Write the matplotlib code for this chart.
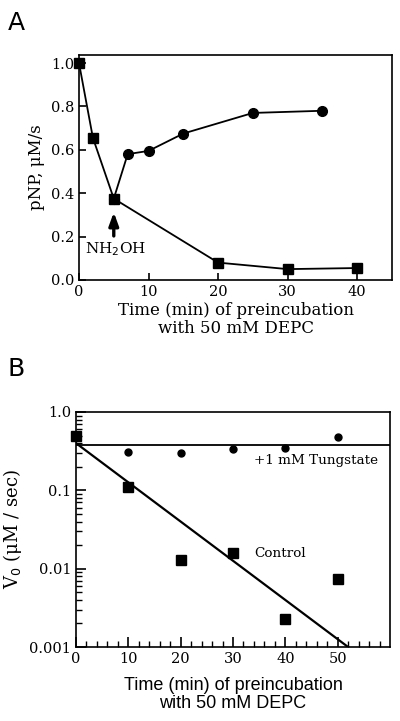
import matplotlib
matplotlib.use("Agg")
from matplotlib import pyplot as plt
from matplotlib.ticker import FixedLocator, NullFormatter, LogLocator
import numpy as np

# panel A data
a_sq_x = [0, 2, 5, 20, 30, 40]
a_sq_y = [1.0, 0.655, 0.375, 0.08, 0.05, 0.055]
a_ci_x = [5, 7, 10, 15, 25, 35]
a_ci_y = [0.375, 0.58, 0.595, 0.675, 0.77, 0.78]

# panel B data
b_t_x = [10, 20, 30, 40, 50]
b_t_y = [0.31, 0.30, 0.333, 0.347, 0.48]
b_c_x = [0, 10, 20, 30, 40, 50]
b_c_y = [0.49, 0.111, 0.0129, 0.016, 0.00225, 0.0074]
tung_line_x = [0, 60]
tung_line_y = [0.375, 0.375]
ctrl_fit_x = [0, 52]
ctrl_fit_y = [0.40, 0.001]

serif = "DejaVu Serif"
fig = plt.figure(figsize=(4, 7.21), dpi=100)

# ---- panel A
ax = fig.add_axes([0.1975, 0.6117, 0.7825, 0.312])
ax.plot(a_ci_x, a_ci_y, 'o-k', ms=7, lw=1.3, clip_on=False)
ax.plot(a_sq_x, a_sq_y, 's-k', ms=7.5, lw=1.3, zorder=3, clip_on=False)
ax.set_xlim(0, 45)
ax.set_ylim(0, 1.037)
ax.set_xticks([0, 10, 20, 30, 40])
ax.set_yticks([0, 0.2, 0.4, 0.6, 0.8, 1.0])
ax.set_yticklabels(["0.0", "0.2", "0.4", "0.6", "0.8", "1.0"])
ax.tick_params(direction='in', length=5, width=1.2, labelsize=10.5)
for lab in ax.get_xticklabels() + ax.get_yticklabels():
    lab.set_family(serif)
for s in ax.spines.values():
    s.set_linewidth(1.2)
ax.set_xlabel("Time (min) of preincubation\nwith 50 mM DEPC", family=serif,
              fontsize=12, linespacing=1.1, labelpad=2)
ax.set_ylabel("pNP, μM/s", family=serif, fontsize=12)
ax.annotate("", xy=(5, 0.325), xytext=(5, 0.19),
            arrowprops=dict(arrowstyle='-|>,head_width=0.2,head_length=0.55',
                            color='k', lw=2.4, mutation_scale=14))
ax.text(5.3, 0.14, "NH$_2$OH", family=serif, fontsize=11, ha='center', va='center')
fig.text(0.02, 0.985, "A", fontsize=18, va='top', ha='left')

# ---- panel B
bx = fig.add_axes([0.19, 0.1026, 0.785, 0.326])
bx.set_yscale('log')
bx.plot(tung_line_x, tung_line_y, '-k', lw=1.3)
bx.plot(ctrl_fit_x, ctrl_fit_y, '-k', lw=1.6)
bx.plot(b_t_x, b_t_y, 'ok', ms=5, ls='none', clip_on=False)
bx.plot(b_c_x, b_c_y, 'sk', ms=6.5, ls='none', zorder=3, clip_on=False)
bx.set_xlim(0, 60)
bx.set_ylim(0.001, 1.0)
bx.set_xticks([0, 10, 20, 30, 40, 50])
bx.xaxis.set_minor_locator(FixedLocator(np.arange(0, 60, 2)))
bx.set_yticks([0.001, 0.01, 0.1, 1.0])
bx.set_yticklabels(["0.001", "0.01", "0.1", "1.0"])
bx.yaxis.set_minor_locator(LogLocator(base=10, subs=np.arange(2, 10)))
bx.yaxis.set_minor_formatter(NullFormatter())
bx.tick_params(which='major', direction='in', length=7, width=1.2, labelsize=10.5)
bx.tick_params(which='minor', direction='in', length=4, width=1)
for lab in bx.get_xticklabels() + bx.get_yticklabels():
    lab.set_family(serif)
for s in bx.spines.values():
    s.set_linewidth(1.2)
bx.set_xlabel("Time (min) of preincubation\nwith 50 mM DEPC", family="Liberation Sans",
              fontsize=13, linespacing=1.1, labelpad=8)
bx.set_ylabel("V$_0$ (μM / sec)", family=serif, fontsize=13)
bx.text(34, 0.237, "+1 mM Tungstate", family=serif, fontsize=9.7, va='center')
bx.text(34, 0.0155, "Control", family=serif, fontsize=9.7, va='center')
fig.text(0.02, 0.505, "B", fontsize=18, va='top', ha='left')

fig.savefig("out.png", dpi=100)
